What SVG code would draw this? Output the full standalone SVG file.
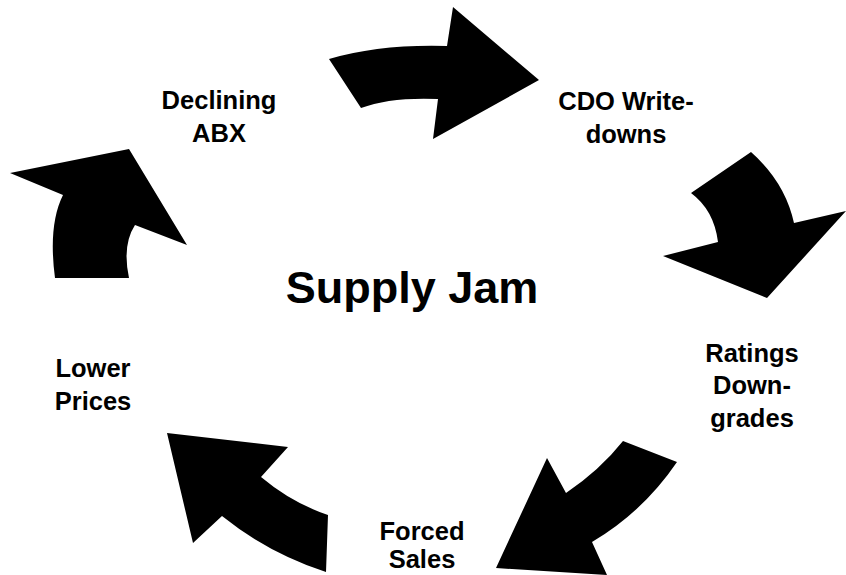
<svg xmlns="http://www.w3.org/2000/svg" width="846" height="575" viewBox="0 0 846 575">
<style>
.lbl{font-family:"Liberation Sans",Arial,Helvetica,sans-serif;font-weight:bold;font-size:25.5px;fill:#000;text-anchor:middle}
.title{font-family:"Liberation Sans",Arial,Helvetica,sans-serif;font-weight:bold;font-size:45px;fill:#000;text-anchor:middle}
.arr{fill:#000;stroke:none}
</style>
<rect width="846" height="575" fill="#fff"/>
<g id="connectors">
<path class="arr" d="M329,59 Q380,44 447,46 L453,7 L539,80 L433,139 L438,99 Q390,97 361,108 Z"/>
<path class="arr" d="M751,152 L691,193 Q714,210 718,242 L663,256 L767,298 L846,211 L794,223 Q785,182 751,152 Z"/>
<path class="arr" d="M623,441 L677,462 Q643,512 592,542 L607,575 L496,568 L547,458 L566,493 Q600,470 623,441 Z"/>
<path class="arr" d="M167,433 L288,447 L261,477 Q292,503 328,515 L326,572 Q268,553 222,516 L193,543 Z"/>
<path class="arr" d="M10,173 L129,149 L187,245 L135,225 Q122,245 129,278 L55,278 Q48,225 63,195 Z"/>
</g>
<g id="node-center"><text class="title" x="412" y="303">Supply Jam</text></g>
<g id="node-declining-abx"><text class="lbl" x="219" y="109">Declining</text><text class="lbl" x="219" y="141.5">ABX</text></g>
<g id="node-cdo-writedowns"><text class="lbl" x="626" y="110">CDO Write-</text><text class="lbl" x="626" y="143">downs</text></g>
<g id="node-ratings-downgrades"><text class="lbl" x="752" y="362">Ratings</text><text class="lbl" x="752" y="394">Down-</text><text class="lbl" x="752" y="426.5">grades</text></g>
<g id="node-forced-sales"><text class="lbl" x="422" y="540">Forced</text><text class="lbl" x="422" y="568">Sales</text></g>
<g id="node-lower-prices"><text class="lbl" x="93" y="377">Lower</text><text class="lbl" x="93" y="410">Prices</text></g>
</svg>
